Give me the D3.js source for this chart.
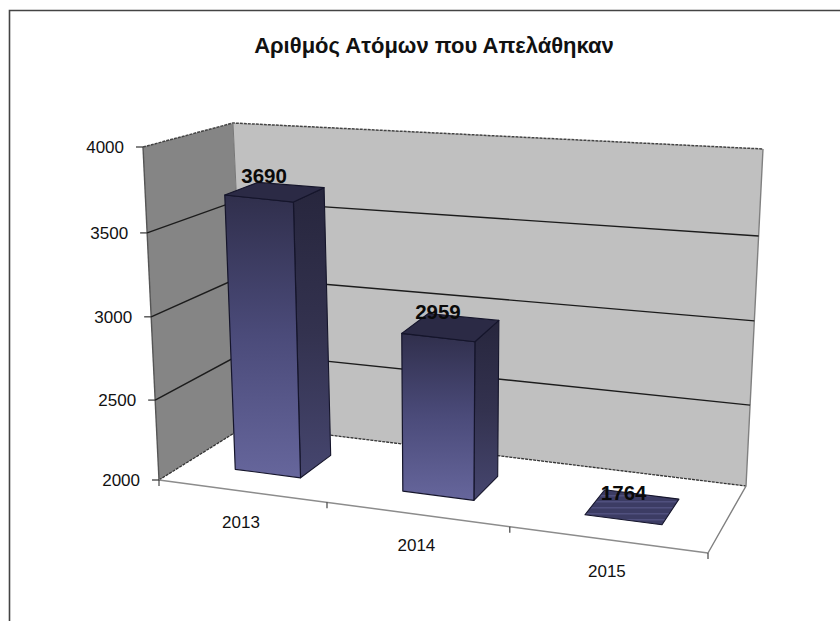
<!DOCTYPE html>
<html><head><meta charset="utf-8">
<script src="https://cdn.jsdelivr.net/npm/d3@7"></script>
<style>html,body{margin:0;padding:0;background:#fff}svg{display:block}text{font-family:"Liberation Sans",Arial,sans-serif;fill:#111}</style>
</head><body><svg id="c" width="840" height="621"></svg>
<script>
const chartTitle = "Αριθμός Ατόμων που Απελάθηκαν";
const years = ["2013","2014","2015"];
const values = [3690,2959,1764];
const yTicks = [2000,2500,3000,3500,4000];

const svg = d3.select("#c");
const W=840,H=621;

// Perspective box: corners of the plot in screen space
const FLB=[159,480],FRB=[708,553],BLB=[247,425],BRB=[746,486];
const FLT=[143,147],FRT=[725,216],BLT=[233,123],BRT=[763,149];

const uScale=d3.scaleLinear().domain([0,1,2,3]).range([0,.306,.639,1]);
// Axis height with the foreshortening of the drawn walls; bars use the plain linear height
const axisScale=d3.scaleLinear().domain(yTicks).range([0,.24,.49,.742,1]);
const barScale=d3.scaleLinear().domain([2000,4000]).range([0,1]).clamp(true);
const lerp=(a,b,t)=>[a[0]+(b[0]-a[0])*t,a[1]+(b[1]-a[1])*t];
function project(cat,depth,val,scale=axisScale){
  const u=uScale(cat),w=scale(val);
  const fb=lerp(FLB,FRB,u),bb=lerp(BLB,BRB,u),ft=lerp(FLT,FRT,u),bt=lerp(BLT,BRT,u);
  return lerp(lerp(fb,bb,depth),lerp(ft,bt,depth),w);
}
const line=d3.line();
const poly=pts=>line(pts)+"Z";

const defs=svg.append("defs");
function grad(id,stops){
  const g=defs.append("linearGradient").attr("id",id).attr("x1",0).attr("y1",0).attr("x2",0).attr("y2",1);
  stops.forEach(([o,c])=>g.append("stop").attr("offset",o).attr("stop-color",c));
}
grad("front",[[0,"#302f4c"],[.5,"#4b4b7a"],[1,"#66669c"]]);
grad("side",[[0,"#27263d"],[.5,"#33324f"],[1,"#46466f"]]);
const pat=defs.append("pattern").attr("id","flat").attr("patternUnits","userSpaceOnUse").attr("width",6).attr("height",6);
pat.append("rect").attr("width",6).attr("height",6).attr("fill","#3c3c64");
pat.append("rect").attr("y",3).attr("width",6).attr("height",1.5).attr("fill","#50507e");

// Chart frame
svg.append("path").attr("d",line([[9.5,H],[9.5,10.5],[W,10.5]])).attr("fill","none").attr("stroke","#444").attr("stroke-width",1.6);

// Title
svg.append("text").attr("x",434).attr("y",53).attr("text-anchor","middle").attr("font-size",22).attr("font-weight","bold").text(chartTitle);

// Walls
const D0=0,D1=1,C0=0,C1=3,V0=2000,V1=4000;
svg.append("path").attr("d",poly([project(C0,D0,V0),project(C0,D0,V1),project(C0,D1,V1),project(C0,D1,V0)]))
  .attr("fill","#858585");
svg.append("path").attr("d",poly([project(C0,D1,V0),project(C0,D1,V1),project(C1,D1,V1),project(C1,D1,V0)]))
  .attr("fill","#c0c0c0");

// Wall outlines
const edge=(pts,col,w,dash)=>svg.append("path").attr("d",line(pts)).attr("fill","none").attr("stroke",col).attr("stroke-width",w).attr("stroke-dasharray",dash||null);
edge([project(C0,D0,V1),project(C0,D1,V1),project(C1,D1,V1)],"#444",1.5,"3 1");
edge([project(C0,D0,V0),project(C0,D1,V0),project(C1,D1,V0)],"#333",1.3,"3 1");
edge([project(C1,D1,V1),project(C1,D1,V0),project(C1,D0,V0)],"#808080",1.4);
edge([project(C0,D0,V1),project(C0,D0,V0)],"#555",1.4);
edge([project(C0,D1,V1),project(C0,D1,V0)],"#777",1);

// Gridlines
yTicks.filter(v=>v>V0&&v<V1).forEach(v=>{
  edge([project(C0,D0,v),project(C0,D1,v),project(C1,D1,v)],"#1c1c1c",1.4);
});

// Floor front edge
edge([project(C0,D0,V0),project(C1,D0,V0)],"#8c8c8c",1.5);

// Value ticks and labels
yTicks.forEach(v=>{
  const p=project(C0,D0,v);
  edge([[p[0]-7,p[1]],p],"#333",1.2);
  svg.append("text").attr("x",p[0]-19).attr("y",p[1]+6).attr("text-anchor","end").attr("font-size",17).text(d3.format("d")(v));
});

// Category ticks and labels
d3.range(0,years.length+1).forEach(i=>{
  const p=project(i,D0,V0);
  edge([p,[p[0],p[1]+6]],"#333",1.1);
});
years.forEach((y,i)=>{
  const p=project(i+.5,D0,V0);
  svg.append("text").attr("x",p[0]-2).attr("y",p[1]+37).attr("text-anchor","middle").attr("font-size",17).text(y);
});

// Bars
const C=[.3,.7],D=[.31,.7];
const labelOffsets=[[-11,-9],[-13,-8],[-9,-7]];
values.forEach((val,i)=>{
  const a=i+C[0],b=i+C[1];
  const top=val>V0;
  const P=(c,d,v)=>project(c,d,v,barScale);
  const stroke="#15152b";
  if(top){
    svg.append("path").attr("d",poly([P(b,D[0],V0),P(b,D[1],V0),P(b,D[1],val),P(b,D[0],val)])).attr("fill","url(#side)").attr("stroke",stroke).attr("stroke-width",1.1).attr("stroke-linejoin","round");
    svg.append("path").attr("d",poly([P(a,D[0],V0),P(b,D[0],V0),P(b,D[0],val),P(a,D[0],val)])).attr("fill","url(#front)").attr("stroke",stroke).attr("stroke-width",1.2).attr("stroke-linejoin","round");
  }
  svg.append("path").attr("d",poly([P(a,D[0],val),P(b,D[0],val),P(b,D[1],val),P(a,D[1],val)]))
    .attr("fill",top?"#2b2a45":"url(#flat)").attr("stroke",stroke).attr("stroke-width",1.1).attr("stroke-linejoin","round");
  const c=P(i+.5,(D[0]+D[1])/2,val);
  svg.append("text").attr("x",c[0]+labelOffsets[i][0]).attr("y",c[1]+labelOffsets[i][1]).attr("text-anchor","middle")
    .attr("font-size",20.5).attr("font-weight","bold").style("fill","#0a0a0a").text(d3.format("d")(val));
});
</script></body></html>
